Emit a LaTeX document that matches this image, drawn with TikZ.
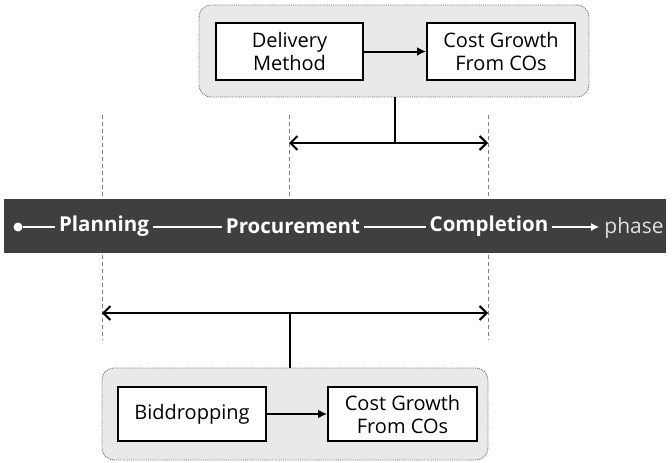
\documentclass[tikz,border=0pt]{standalone}
\usepackage{fontspec}
\setmainfont{Open Sans}
\usetikzlibrary{arrows.meta,positioning}
\definecolor{groupfill}{HTML}{E9E9E9}
\definecolor{groupline}{HTML}{707070}
\definecolor{bardark}{HTML}{3F3F3F}
\definecolor{dashgray}{HTML}{808080}
\definecolor{phasegray}{HTML}{E0E0E0}
\tikzset{
  groupbox/.style={draw=groupline, densely dotted, line width=0.9pt, fill=groupfill, rounded corners=12pt},
  whitebox/.style={draw=black, line width=2pt, fill=white, inner sep=0pt, align=center, font=\fontsize{20}{23}\selectfont},
  flowarrow/.style={line width=2pt, -{Latex[length=9pt,width=9pt]}},
  spanarrow/.style={line width=2pt, {Straight Barb[length=7pt,width=14pt,line width=2pt]}-{Straight Barb[length=7pt,width=14pt,line width=2pt]}},
  stem/.style={line width=2pt},
  guide/.style={draw=dashgray, line width=0.8pt, dash pattern=on 4pt off 3pt},
  phaselabel/.style={text=white, font=\fontsize{20.5}{23}\selectfont\bfseries, inner xsep=4pt, inner ysep=2pt},
  phaseline/.style={draw=white, line width=1.5pt},
}
\begin{document}
\begin{tikzpicture}[x=1pt,y=-1pt]
\useasboundingbox (0,0) rectangle (672,463);
% dashed guides
\coordinate (g1t) at (102,115); \coordinate (g1b) at (102,340);
\coordinate (g2t) at (289,115); \coordinate (g2b) at (289,199);
\coordinate (g3t) at (488,115); \coordinate (g3b) at (488,340);
\draw[guide] (g1t) -- (g1b);
\draw[guide] (g2t) -- (g2b);
\draw[guide] (g3t) -- (g3b);
% top group
\node[groupbox, minimum width=390pt, minimum height=92pt] (topgrp) at (394,51) {};
\node[whitebox, minimum width=147pt, minimum height=57pt] (deliv) at (289.5,51.5) {Delivery\\Method};
\node[whitebox, minimum width=148pt, minimum height=57pt] (cgtop) at (501,51.5) {Cost Growth\\From COs};
\draw[flowarrow] (deliv.east) -- (cgtop.west);
\coordinate (topL) at (289,143);
\coordinate (topR) at (488,143);
\coordinate (topM) at (395,143);
\draw[spanarrow] (topL) -- (topR);
\draw[stem] (topgrp.south -| topM) -- (topM);
% bar
\fill[bardark] (4,199) rectangle (666,253);
\node[circle, fill=white, inner sep=0pt, minimum size=9pt] (dot) at (18,227) {};
\node[phaselabel] (plan) at (104,226) {Planning};
\node[phaselabel] (proc) at (293,226) {Procurement};
\node[phaselabel] (comp) at (489,226) {Completion};
\node[text=phasegray, font=\fontsize{21}{23}\selectfont, inner xsep=5pt, inner ysep=3pt] (phase) at (634,228) {phase};
\draw[phaseline] (dot) -- (plan.west |- dot);
\draw[phaseline] (plan.east |- dot) -- (proc.west |- dot);
\draw[phaseline] (proc.east |- dot) -- (comp.west |- dot);
\draw[phaseline, -{Latex[length=8pt,width=8pt]}] (comp.east |- dot) -- (phase.west |- dot);
% bottom
\coordinate (botL) at (102,313);
\coordinate (botR) at (488,313);
\coordinate (botM) at (290,313);
\draw[spanarrow] (botL) -- (botR);
\node[groupbox, minimum width=386pt, minimum height=92pt] (botgrp) at (295,414) {};
\draw[stem] (botM) -- (botgrp.north -| botM);
\node[whitebox, minimum width=148pt, minimum height=54pt] (bid) at (192,414) {Biddropping};
\node[whitebox, minimum width=149pt, minimum height=54pt] (cgbot) at (402.5,414) {Cost Growth\\From COs};
\draw[flowarrow] (bid.east) -- (cgbot.west);
\end{tikzpicture}
\end{document}
